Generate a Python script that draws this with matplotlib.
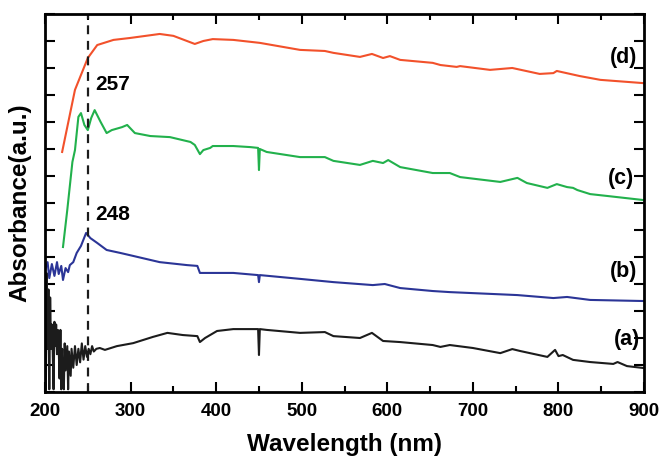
import numpy as np
import matplotlib.pyplot as plt
from matplotlib.ticker import MultipleLocator

plt.rcParams['font.family'] = ['Liberation Sans', 'DejaVu Sans']
plt.rcParams['font.weight'] = 'bold'

# Espectros UV-Vis (absorbancia em unidades arbitrarias, curvas deslocadas)
wl_a = [200, 201, 202, 203, 204, 205, 206, 207, 208, 209, 210, 211, 212, 213, 214,
        215, 216, 217, 218, 219, 220, 221, 222, 223, 224, 226, 227, 228, 230, 231,
        233, 235, 237, 239, 241, 243, 245, 247, 249, 251, 253, 255, 257, 260, 264,
        270, 284, 303, 326, 343, 361, 378, 381, 387, 401, 420, 449, 450, 451, 459,
        498, 527, 537, 568, 582, 595, 615, 653, 662, 673, 700, 732, 746, 755, 787,
        796, 800, 805, 817, 837, 864, 869, 880, 899]
abs_a = [3.3, 0.1, 4.4, 1.6, 3.8, 0.1, 3.5, 1.6, 2.5, 1.5, 0.1, 2.6, 1.7, 2.5, 1.4,
         2.3, 1.6, 0.5, 2.3, 0.1, 1.6, 0.3, 0.1, 1.8, 0.8, 1.7, 0.1, 1.5, 0.6, 1.6,
         0.9, 1.7, 1.0, 1.6, 1.1, 1.8, 1.2, 1.7, 1.3, 1.6, 1.4, 1.7, 1.5, 1.6, 1.63,
         1.56, 1.70, 1.81, 2.04, 2.19, 2.11, 2.07, 1.85, 2.0, 2.26, 2.33, 2.33, 1.37, 2.33, 2.30,
         2.19, 2.22, 2.07, 2.0, 2.19, 1.89, 1.85, 1.74, 1.67, 1.74, 1.63, 1.44, 1.59, 1.52, 1.30,
         1.56, 1.33, 1.37, 1.19, 1.11, 1.04, 1.11, 0.96, 0.89]

wl_b = [200, 203, 205, 208, 211, 214, 216, 219, 221, 224, 227, 229, 233, 237, 242,
        248, 253, 261, 272, 288, 303, 334, 366, 378, 381, 404, 420, 449, 450, 451,
        498, 537, 583, 597, 615, 653, 673, 752, 794, 810, 837, 899]
abs_b = [4.52, 4.81, 4.22, 4.74, 4.30, 4.81, 4.37, 4.67, 4.15, 4.59, 4.44, 4.70, 4.81, 5.15, 5.41,
         5.89, 5.70, 5.52, 5.26, 5.15, 5.04, 4.81, 4.70, 4.67, 4.41, 4.41, 4.41, 4.33, 4.07, 4.33,
         4.19, 4.07, 3.96, 4.0, 3.85, 3.74, 3.70, 3.59, 3.48, 3.52, 3.41, 3.37]

wl_c = [221, 226, 232, 235, 239, 242, 246, 250, 254, 258, 265, 272, 278, 290, 296,
        305, 323, 346, 370, 375, 381, 385, 393, 396, 420, 440, 449, 450, 451, 459,
        498, 527, 537, 568, 583, 595, 601, 615, 653, 673, 685, 732, 752, 763, 787,
        798, 810, 817, 822, 837, 857, 899]
abs_c = [5.37, 6.74, 8.52, 8.96, 10.19, 10.33, 9.89, 9.70, 10.15, 10.44, 10.0, 9.59, 9.70, 9.81, 9.89,
         9.59, 9.48, 9.44, 9.26, 9.15, 8.81, 8.96, 9.04, 9.11, 9.11, 9.07, 9.04, 8.22, 9.0, 8.89,
         8.70, 8.70, 8.56, 8.41, 8.56, 8.48, 8.59, 8.33, 8.11, 8.11, 7.96, 7.78, 7.93, 7.74, 7.56,
         7.70, 7.59, 7.56, 7.48, 7.33, 7.26, 7.11]

wl_d = [220, 235, 250, 261, 280, 299, 334, 350, 375, 385, 396, 420, 451, 498, 527,
        537, 568, 582, 595, 603, 615, 653, 662, 681, 685, 720, 746, 778, 794, 798,
        825, 849, 899]
abs_d = [8.89, 11.19, 12.37, 12.85, 13.04, 13.11, 13.26, 13.19, 12.89, 13.0, 13.07, 13.04, 12.93, 12.67, 12.63,
         12.56, 12.41, 12.52, 12.37, 12.44, 12.30, 12.19, 12.11, 12.04, 12.07, 11.93, 12.0, 11.78, 11.81, 11.89,
         11.70, 11.56, 11.44]

fig = plt.figure(figsize=(6.64, 4.57), dpi=100)
ax = fig.add_axes([0.0678, 0.1422, 0.9022, 0.8272])

ax.plot(wl_a, abs_a, color="#1c1c1c", lw=1.5)
ax.plot(wl_b, abs_b, color="#2b3597", lw=1.5)
ax.plot(wl_c, abs_c, color="#22b14c", lw=1.5)
ax.plot(wl_d, abs_d, color="#f2512b", lw=1.5)
ax.axvline(250, color="#1c1c1c", ls=(0, (4, 3)), lw=1.6)

# rotulos das curvas e picos
ax.text(876, 12.4, "(d)", fontsize=15.5, fontweight="bold", ha="center", va="center")
ax.text(873, 7.9, "(c)", fontsize=15.5, fontweight="bold", ha="center", va="center")
ax.text(876, 4.45, "(b)", fontsize=15.5, fontweight="bold", ha="center", va="center")
ax.text(880, 1.93, "(a)", fontsize=15.5, fontweight="bold", ha="center", va="center")
ax.text(259, 11.37, "257", fontsize=15, fontweight="bold", ha="left", va="center")
ax.text(259, 6.59, "248", fontsize=15, fontweight="bold", ha="left", va="center")

ax.set_xlim(200, 900)
ax.set_ylim(0, 14)
ax.xaxis.set_major_locator(MultipleLocator(100))
ax.xaxis.set_minor_locator(MultipleLocator(50))
ax.yaxis.set_major_locator(MultipleLocator(1))
ax.tick_params(which="both", direction="in", top=True, right=True, width=1.5)
ax.tick_params(which="major", length=7)
ax.tick_params(which="minor", length=4)
ax.tick_params(axis="x", labelsize=13.5, pad=8)
ax.set_yticklabels([])
for lbl in ax.get_xticklabels():
    lbl.set_fontweight("bold")
for s in ax.spines.values():
    s.set_linewidth(2)

ax.set_xlabel("Wavelength (nm)", fontsize=17.5, fontweight="bold", labelpad=9)
ax.set_ylabel("Absorbance(a.u.)", fontsize=17.5, fontweight="bold", labelpad=6)

fig.savefig("out.png", dpi=100)
